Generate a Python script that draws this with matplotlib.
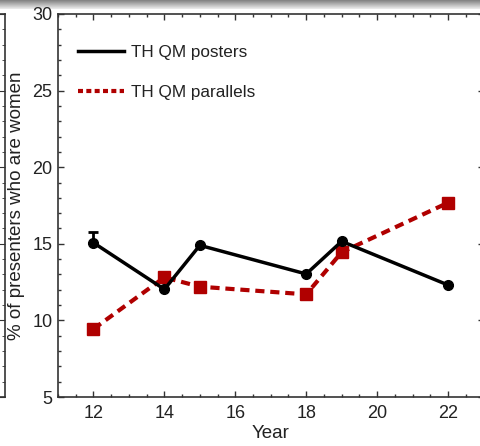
import numpy as np
import matplotlib
matplotlib.use("Agg")
import matplotlib.pyplot as plt
from matplotlib.ticker import MultipleLocator
from matplotlib.lines import Line2D

plt.rcParams['font.family'] = ['Liberation Sans', 'DejaVu Sans']

years_posters = [12, 14, 15, 18, 19, 22]
posters = [15.07, 12.03, 14.90, 13.03, 15.16, 12.31]
posters_err_up = [0.72, 0, 0, 0, 0, 0]

years_parallels = [12, 14, 15, 18, 19, 22]
parallels = [9.44, 12.81, 12.20, 11.70, 14.45, 17.68]

W, H = 480, 446
fig = plt.figure(figsize=(W / 100, H / 100), dpi=100)

def px_rect(x0, y0, x1, y1):
    return [x0 / W, 1 - y1 / H, (x1 - x0) / W, (y1 - y0) / H]

# gray gradient bar at the top (drawn underneath)
axg = fig.add_axes(px_rect(0, 0, W, 9))
grad = np.linspace(0.5, 0.93, 50).reshape(-1, 1)
axg.imshow(grad, aspect='auto', cmap='gray', vmin=0, vmax=1, extent=[0, 1, 0, 1])
axg.set_axis_off()
axg.set_zorder(-5)

# main axes
ax = fig.add_axes(px_rect(58, 14, 483.5, 397))
ax.patch.set_alpha(0)
red = '#B00000'
ax.plot(years_parallels, parallels, color=red, lw=3, ls=(0, (2.2, 1.4)),
        marker='s', ms=8.5, mfc=red, mec=red, label='TH QM parallels', zorder=3)
ax.errorbar(years_posters, posters, yerr=[np.zeros(len(posters)), posters_err_up],
            color='black', lw=2.5, marker='o', ms=7, capsize=3.5, capthick=2,
            elinewidth=2, label='TH QM posters', zorder=4)

ax.set_xlim(11, 23)
ax.set_ylim(5, 30)
ax.xaxis.set_major_locator(MultipleLocator(2))
ax.xaxis.set_minor_locator(MultipleLocator(0.5))
ax.yaxis.set_major_locator(MultipleLocator(5))
ax.yaxis.set_minor_locator(MultipleLocator(1))
ax.tick_params(which='both', direction='in', top=True, right=True, colors='#333333',
               labelcolor='#222222', labelsize=13)
ax.tick_params(which='major', length=4, width=1)
ax.tick_params(which='minor', length=2.5, width=1)
ax.tick_params(axis='x', pad=6)
ax.tick_params(axis='y', pad=4)
for s in ax.spines.values():
    s.set_color('#333333')
    s.set_linewidth(1.2)
ax.set_xlabel('Year', fontsize=13.5, color='#222222', labelpad=2)
ax.set_ylabel('% of presenters who are women', fontsize=13.5, color='#222222', labelpad=5)

handles = [Line2D([], [], color='black', lw=2.5),
           Line2D([], [], color=red, lw=3, ls=(0, (1.2, 0.8)))]
ax.legend(handles, ['TH QM posters', 'TH QM parallels'], loc='upper left',
          frameon=False, fontsize=12.3, handlelength=2.7, handletextpad=0.45,
          labelspacing=1.5, bbox_to_anchor=(0.01, 0.96), labelcolor='#222222')

# partial neighbouring panel on the left edge
ax2 = fig.add_axes(px_rect(-100, 14, 5, 397))
ax2.patch.set_alpha(0)
ax2.set_xlim(0, 1)
ax2.set_ylim(5, 30)
ax2.yaxis.set_major_locator(MultipleLocator(5))
ax2.yaxis.set_minor_locator(MultipleLocator(1))
ax2.tick_params(which='both', direction='in', left=False, right=True,
                labelleft=False, bottom=False, labelbottom=False, colors='#333333')
ax2.tick_params(which='major', length=4)
ax2.tick_params(which='minor', length=2.5)
for s in ax2.spines.values():
    s.set_color('#333333')
    s.set_linewidth(1.2)

fig.savefig('out.png', dpi=100)
